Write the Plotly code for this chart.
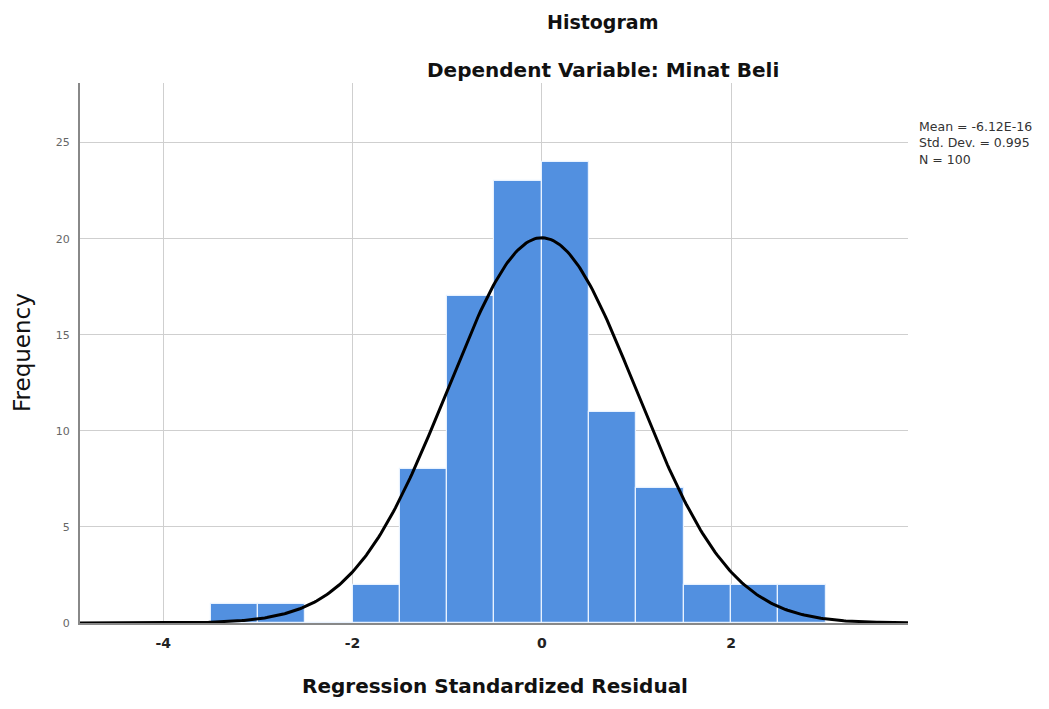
import numpy as np
import plotly.graph_objects as go

# Data
bin_centers = [-3.25, -2.75, -2.25, -1.75, -1.25, -0.75, -0.25, 0.25, 0.75, 1.25, 1.75, 2.25, 2.75]
counts = [1, 1, 0, 2, 8, 17, 23, 24, 11, 7, 2, 2, 2]
bin_width = 0.5
stat_mean = -6.12e-16
stat_sd = 0.995
stat_n = 100
x_ticks = [-4, -2, 0, 2]
y_ticks = [0, 5, 10, 15, 20, 25]
x_range = [-4.88, 3.87]
y_range = [0, 28.1]

# Normal curve implied by the reported statistics
xc = np.linspace(x_range[0], x_range[1], 400)
yc = stat_n * bin_width / (stat_sd * np.sqrt(2 * np.pi)) * np.exp(-0.5 * ((xc - stat_mean) / stat_sd) ** 2)

OFF = 8  # page body margin
L, R, T, B = 80 - OFF, 1049 - 908 + OFF, 83 - OFF, 709 - 623 + OFF
W, H = 1049, 709
pw = W - L - R
ph = H - T - B


def px(x):
    return (x - OFF - L) / pw


def py(y):
    return 1 - (y - OFF - T) / ph


FONT = "DejaVu Sans, Liberation Sans, Arial, sans-serif"

fig = go.Figure()
fig.add_trace(go.Bar(
    x=bin_centers, y=counts, width=bin_width,
    marker=dict(color="#5290e0", line=dict(color="#e8f2ff", width=1.2)),
    showlegend=False,
))
fig.add_trace(go.Scatter(
    x=xc, y=yc, mode="lines", line=dict(color="black", width=3), showlegend=False,
))

fig.update_layout(
    width=W, height=H,
    margin=dict(l=L, r=R, t=T, b=B),
    paper_bgcolor="white", plot_bgcolor="white",
    font=dict(family=FONT, color="#222"),
    bargap=0,
    xaxis=dict(
        range=x_range, tickvals=x_ticks, ticktext=[str(v) for v in x_ticks],
        showgrid=True, gridcolor="#cfcfcf", gridwidth=1,
        showline=True, linecolor="#888", linewidth=2,
        zeroline=False, ticks="", ticklabelstandoff=6,
        tickfont=dict(size=14, color="#222", weight="bold"),
    ),
    yaxis=dict(
        range=y_range, tickvals=y_ticks,
        showgrid=True, gridcolor="#cfcfcf", gridwidth=1,
        showline=True, linecolor="#888", linewidth=2,
        zeroline=False, ticks="", ticklabelstandoff=6,
        tickfont=dict(size=11, color="#666"),
    ),
    annotations=[
        dict(text="<b>Histogram</b>", x=px(602), y=py(22), xref="paper", yref="paper", showarrow=False,
             xanchor="center", yanchor="middle", font=dict(size=19, color="#111")),
        dict(text="<b>Dependent Variable: Minat Beli</b>", x=px(603), y=py(70), xref="paper", yref="paper",
             showarrow=False, xanchor="center", yanchor="middle", font=dict(size=20, color="#111")),
        dict(text="<b>Regression Standardized Residual</b>", x=px(495), y=py(686), xref="paper", yref="paper",
             showarrow=False, xanchor="center", yanchor="middle", font=dict(size=20, color="#111")),
        dict(text="Frequency", x=px(22), y=py(352), xref="paper", yref="paper", textangle=-90,
             showarrow=False, xanchor="center", yanchor="middle", font=dict(size=23, color="#111")),
        dict(text=f"Mean = -6.12E-16<br>Std. Dev. = {stat_sd}<br>N = {stat_n}", x=px(917), y=py(117),
             xref="paper", yref="paper", showarrow=False, align="left",
             xanchor="left", yanchor="top", font=dict(size=12.5, color="#333")),
    ],
)

fig.write_html("out.html")
